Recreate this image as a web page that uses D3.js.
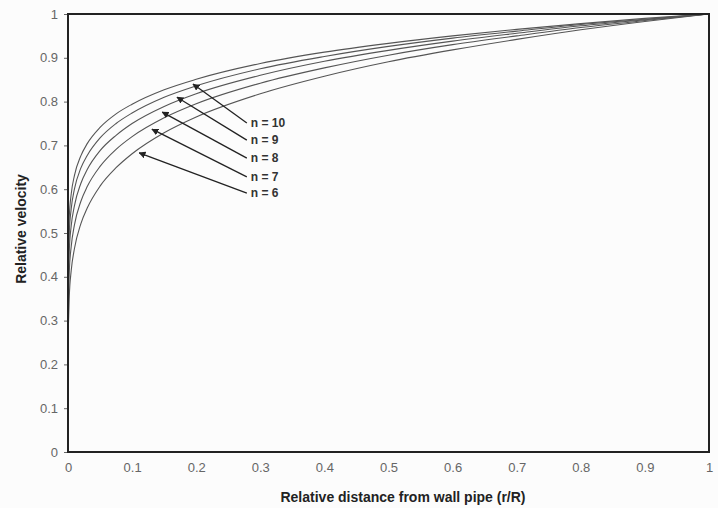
<!DOCTYPE html>
<html lang="en">
<head>
  <meta charset="utf-8"/>
  <title>Relative velocity profile</title>
  <script src="https://cdnjs.cloudflare.com/ajax/libs/d3/7.8.5/d3.min.js"></script>
  <style>
    body { margin: 0; background: #fcfcfc; }
    svg { display: block; font-family: "Liberation Sans", Arial, sans-serif; }
  </style>
</head>
<body>
<svg id="chart" width="718" height="508"></svg>
<script>
// relative distance samples (r/R)
var xs = [0.0005, 0.002, 0.005, 0.01, 0.02, 0.03, 0.05, 0.075, 0.1, 0.15,
          0.2, 0.3, 0.4, 0.5, 0.6, 0.7, 0.8, 0.9, 1];
// relative velocity
var vel6  = [0.282, 0.355, 0.414, 0.464, 0.521, 0.557, 0.607, 0.649, 0.681, 0.729,
             0.765, 0.818, 0.858, 0.891, 0.918, 0.942, 0.964, 0.983, 1];
var vel7  = [0.338, 0.412, 0.469, 0.518, 0.572, 0.606, 0.652, 0.691, 0.720, 0.763,
             0.795, 0.842, 0.877, 0.906, 0.930, 0.950, 0.969, 0.985, 1];
var vel8  = [0.387, 0.460, 0.516, 0.562, 0.613, 0.645, 0.688, 0.723, 0.750, 0.789,
             0.818, 0.860, 0.892, 0.917, 0.938, 0.956, 0.973, 0.987, 1];
var vel9  = [0.430, 0.501, 0.555, 0.600, 0.648, 0.677, 0.717, 0.750, 0.774, 0.810,
             0.836, 0.875, 0.903, 0.926, 0.945, 0.961, 0.976, 0.988, 1];
var vel10 = [0.468, 0.537, 0.589, 0.631, 0.676, 0.704, 0.741, 0.772, 0.794, 0.827,
             0.851, 0.887, 0.913, 0.933, 0.950, 0.965, 0.978, 0.990, 1];
var curves = [vel6, vel7, vel8, vel9, vel10];

// arrow annotations
var labels = ["n = 10", "n = 9", "n = 8", "n = 7", "n = 6"];
var tipX   = [0.195, 0.170, 0.147, 0.131, 0.111];
var tipY   = [0.840, 0.810, 0.776, 0.737, 0.683];
var tailX  = [0.279, 0.279, 0.279, 0.279, 0.279];
var tailY  = [0.751, 0.712, 0.671, 0.628, 0.591];

var xTicks = [0, 0.1, 0.2, 0.3, 0.4, 0.5, 0.6, 0.7, 0.8, 0.9, 1];
var yTicks = [0, 0.1, 0.2, 0.3, 0.4, 0.5, 0.6, 0.7, 0.8, 0.9, 1];

var margin = {top: 14, right: 9, bottom: 56, left: 68};
var width = 718 - margin.left - margin.right;
var height = 508 - margin.top - margin.bottom;

var svg = d3.select("#chart");
var g = svg.append("g")
  .attr("transform", "translate(" + margin.left + "," + margin.top + ")");

var x = d3.scaleLinear().domain([0, 1]).range([0, width]);
var y = d3.scaleLinear().domain([0, 1]).range([height, 0]);

var fmt = function(d) { return d === 0 || d === 1 ? String(d) : d3.format(".1f")(d); };

// y axis
var yAxis = g.append("g")
  .call(d3.axisLeft(y).tickValues(yTicks).tickFormat(fmt).tickSize(4).tickPadding(6));
yAxis.select(".domain").remove();
yAxis.selectAll("line").attr("stroke", "#666");
yAxis.selectAll("text").attr("fill", "#666").style("font-size", "13px");

// x axis
var xAxis = g.append("g")
  .attr("transform", "translate(0," + height + ")")
  .call(d3.axisBottom(x).tickValues(xTicks).tickFormat(fmt).tickSize(0).tickPadding(11));
xAxis.select(".domain").remove();
xAxis.selectAll("text").attr("fill", "#666").style("font-size", "13px");

// curves
var line = d3.line()
  .x(function(d, i) { return x(xs[i]); })
  .y(function(d) { return y(d); })
  .curve(d3.curveMonotoneX);

g.selectAll("path.curve")
  .data(curves)
  .enter()
  .append("path")
  .attr("class", "curve")
  .attr("d", line)
  .attr("fill", "none")
  .attr("stroke", "#555")
  .attr("stroke-width", 1.1);

// plot frame
g.append("rect")
  .attr("width", width)
  .attr("height", height)
  .attr("fill", "none")
  .attr("stroke", "#222")
  .attr("stroke-width", 2);

// arrows
svg.append("defs").append("marker")
  .attr("id", "head")
  .attr("viewBox", "0 0 10 10")
  .attr("refX", 9).attr("refY", 5)
  .attr("markerWidth", 7).attr("markerHeight", 7)
  .attr("markerUnits", "userSpaceOnUse")
  .attr("orient", "auto")
  .append("path")
  .attr("d", "M0,0 L10,5 L0,10 z")
  .attr("fill", "#222");

labels.forEach(function(lab, i) {
  g.append("line")
    .attr("x1", x(tailX[i])).attr("y1", y(tailY[i]))
    .attr("x2", x(tipX[i])).attr("y2", y(tipY[i]))
    .attr("stroke", "#222")
    .attr("stroke-width", 1.3)
    .attr("marker-end", "url(#head)");
  g.append("text")
    .attr("x", x(tailX[i]) + 4)
    .attr("y", y(tailY[i]) + 4)
    .attr("fill", "#333")
    .style("font-size", "12px")
    .style("font-weight", "bold")
    .text(lab);
});

// axis titles
svg.append("text")
  .attr("x", 403)
  .attr("y", 502)
  .attr("text-anchor", "middle")
  .attr("fill", "#222")
  .style("font-size", "14px")
  .style("font-weight", "bold")
  .text("Relative distance from wall pipe (r/R)");

svg.append("text")
  .attr("transform", "translate(26,229) rotate(-90)")
  .attr("text-anchor", "middle")
  .attr("fill", "#222")
  .style("font-size", "14px")
  .style("font-weight", "bold")
  .text("Relative velocity");
</script>
</body>
</html>
